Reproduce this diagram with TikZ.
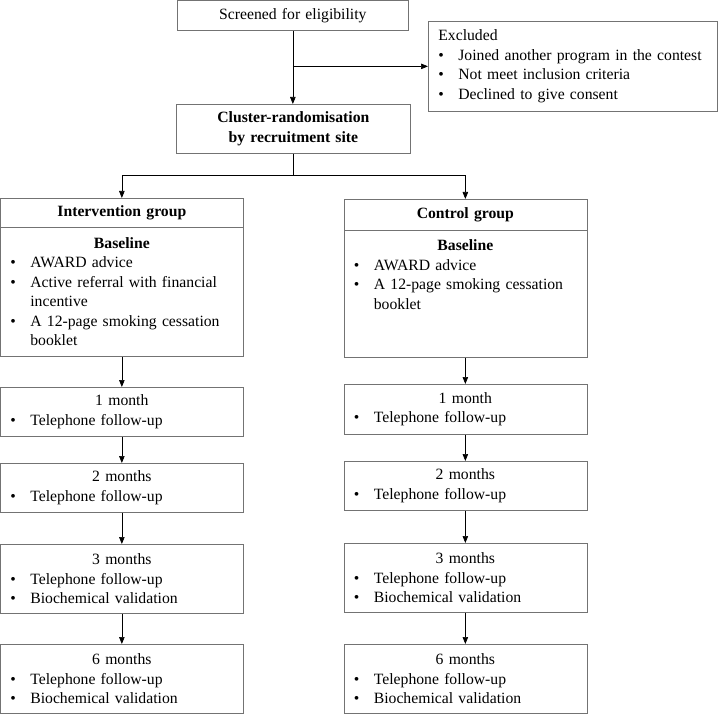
\documentclass[tikz,border=0pt]{standalone}
\usepackage{fontspec}
\setmainfont{Liberation Serif}
\usetikzlibrary{arrows.meta}
\newcommand{\bul}[1]{\par\hangindent=20pt\hangafter=1\noindent\makebox[20pt][l]{\textbullet}#1\par}
\newcommand{\ttl}[1]{{\centering #1\par}}
\newcommand{\brk}{\hfil\break}
\tikzset{
  stage/.style={draw=black!55, line width=0.7pt, anchor=north west, inner xsep=10pt,
    inner ysep=0pt, text width=223pt, align=left, font=\fontsize{15.7}{19.5}\selectfont},
  head/.style={stage, align=center, font=\fontsize{15.7}{19.5}\selectfont\bfseries},
  arr/.style={-{Triangle[length=7pt,width=5.5pt]}, line width=0.7pt},
}
\begin{document}
\begin{tikzpicture}[x=1pt,y=-1pt]
  \useasboundingbox (0,0) rectangle (718,714);
  % top
  \node[head, font=\fontsize{15.7}{19.5}\selectfont, text width=211pt, minimum height=30] (scr) at (177,0.5) {Screened for eligibility};
  \node[stage, text width=269pt, minimum height=90] (excl) at (428,21)
    {Excluded\bul{Joined another program in the contest}\bul{Not meet inclusion criteria}\bul{Declined to give consent}};
  \node[head, text width=214pt, minimum height=49] (clu) at (176,104) {Cluster-randomisation\\by recruitment site};
  % intervention
  \node[head, minimum height=29] (ihead) at (0,198) {Intervention group};
  \node[stage, minimum height=129] (ibase) at (0,227)
    {\ttl{\textbf{Baseline}}\bul{AWARD advice}\bul{Active referral with financial\brk incentive}\bul{A 12-page smoking cessation\brk booklet}};
  \node[stage, minimum height=49] (i1) at (0,387) {\ttl{1 month}\bul{Telephone follow-up}};
  \node[stage, minimum height=49] (i2) at (0,463) {\ttl{2 months}\bul{Telephone follow-up}};
  \node[stage, minimum height=69] (i3) at (0,544) {\ttl{3 months}\bul{Telephone follow-up}\bul{Biochemical validation}};
  \node[stage, minimum height=69] (i6) at (0,644) {\ttl{6 months}\bul{Telephone follow-up}\bul{Biochemical validation}};
  % control
  \node[head, minimum height=31] (chead) at (343.5,199) {Control group};
  \node[stage, minimum height=127] (cbase) at (343.5,230)
    {\ttl{\textbf{Baseline}}\bul{AWARD advice}\bul{A 12-page smoking cessation\brk booklet}\mbox{}\par\mbox{}};
  \node[stage, minimum height=50] (c1) at (343.5,384) {\ttl{1 month}\bul{Telephone follow-up}};
  \node[stage, minimum height=49] (c2) at (343.5,461) {\ttl{2 months}\bul{Telephone follow-up}};
  \node[stage, minimum height=69] (c3) at (343.5,543) {\ttl{3 months}\bul{Telephone follow-up}\bul{Biochemical validation}};
  \node[stage, minimum height=69] (c6) at (343.5,644) {\ttl{6 months}\bul{Telephone follow-up}\bul{Biochemical validation}};
  % connectors
  \coordinate (split) at (clu.south |- 0,175);
  \begin{scope}[arr]
    \draw (scr.south) -- (scr.south |- clu.north);
    \draw (scr.south |- excl.west) -- (excl.west);
    \draw[-] (clu.south) -- (split);
    \draw (split) -| (ihead.north);
    \draw (split) -| (chead.north);
    \draw (ibase.south) -- (i1.north);
    \draw (i1.south) -- (i2.north);
    \draw (i2.south) -- (i3.north);
    \draw (i3.south) -- (i6.north);
    \draw (cbase.south) -- (c1.north);
    \draw (c1.south) -- (c2.north);
    \draw (c2.south) -- (c3.north);
    \draw (c3.south) -- (c6.north);
  \end{scope}
\end{tikzpicture}
\end{document}
